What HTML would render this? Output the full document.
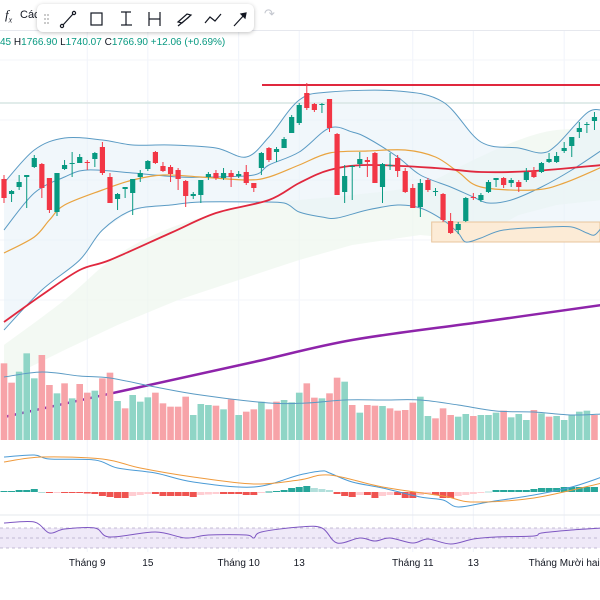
<!DOCTYPE html>
<html><head><meta charset="utf-8"><style>
body{margin:0;background:#fff;width:600px;height:600px;overflow:hidden;font-family:"Liberation Sans",sans-serif}
svg{position:absolute;left:0;top:0}
</style></head><body>
<svg id="c" width="600" height="600"></svg>
<script>
const NS="http://www.w3.org/2000/svg";
// ---- data (price units = arbitrary scale) ----
const opens=[421,406,413,423,433,436,422,388,431,436,437,438,441,453,423,401,411,407,423,431,448,434,433,430,419,404,405,423,427,422,427,424,428,417,432,452,448,452,467,477,507,496,495,501,466,408,433,436,440,447,413,434,442,429,412,393,420,408,406,379,370,379,403,400,408,420,422,417,418,420,429,428,438,438,449,454,468,475,479];
const highs=[425,410,425,425,445,437,422,427,440,448,446,440,448,458,427,407,413,421,430,440,449,438,435,432,420,408,420,428,430,432,430,429,435,417,448,453,453,463,485,497,517,497,497,501,467,435,435,448,443,448,437,447,445,432,416,421,422,412,407,387,378,403,407,407,420,422,423,422,420,432,433,438,447,448,458,463,478,478,488];
const lows=[397,398,410,392,432,402,387,384,430,423,437,430,433,425,397,390,402,385,418,429,436,428,418,410,393,401,397,420,420,420,413,422,415,408,425,438,438,452,467,475,490,488,487,468,405,397,400,432,423,417,397,430,423,407,392,383,408,404,378,366,366,378,400,398,407,413,412,413,408,418,422,427,437,437,447,443,462,467,470];
const closes=[402,409,418,425,442,412,390,427,435,437,443,437,447,427,397,406,413,421,427,439,437,429,426,421,404,406,420,426,422,427,423,426,417,412,447,440,451,461,483,495,492,490,496,472,405,424,434,441,438,417,436,435,429,408,392,417,410,409,380,367,376,402,402,405,418,422,415,420,413,428,423,437,441,444,452,463,472,476,483];
const volumes=[230,172,205,260,185,255,165,140,170,125,168,142,148,185,202,117,95,135,115,128,142,110,100,100,130,75,108,105,103,92,122,75,85,92,115,92,115,120,113,142,170,127,125,140,187,175,105,82,105,103,102,95,88,90,112,130,72,65,95,75,70,78,72,75,75,82,88,68,78,60,90,80,70,72,60,75,85,88,75];
const volUp=[0,0,1,1,1,0,0,1,0,1,0,0,1,0,0,1,0,1,1,1,0,0,0,0,0,1,1,1,0,1,0,1,0,0,1,0,0,1,1,1,0,0,1,0,0,1,0,1,0,0,1,0,0,0,0,1,1,0,0,0,1,1,0,1,1,1,0,1,1,1,0,1,0,1,1,1,1,1,0];
const volMAIdx=[0,5,10,14,20,26,35,40,45,50,55,60,65,70,75,79];
const volMA=[189,204,192,186,159,135,111,111,120,120,120,105,87,84,75,78];
const bbUpIdx=[0,4,8,13,17,22,28,32,35,39,43,52,58,63,68,71,73,77,79];
const bbUp=[417,450,462,460,455,455,452,443,463,500,508,509,498,458,452,447,455,487,490];
const bbMidIdx=[0,4,8,11,17,23,27,33,35,39,43,46,48,52,55,59,62,64,67,71,75,79];
const bbMid=[370,407,423,430,427,423,423,425,435,448,472,468,462,443,425,413,403,397,400,413,430,450];
const bbLowIdx=[0,5,10,13,17,22,26,33,37,39,42,44,48,52,55,58,60,61,63,66,72,75,77,78,79];
const bbLow=[270,310,340,370,390,395,398,398,397,388,383,382,390,395,392,380,367,358,362,370,373,373,367,365,373];
const ma20Idx=[0,4,6,8,13,17,21,26,32,35,39,43,48,53,57,60,63,70,74,79];
const ma20=[347,363,380,395,410,420,425,423,420,423,435,447,449,450,443,428,413,410,417,433];
const ma50Idx=[0,5,10,14,22,28,35,39,43,48,57,63,70,79];
const ma50=[278,305,330,340,367,387,400,417,430,435,432,428,429,435];
const ma200Idx=[0,18,33,46,63,79];
const ma200=[183,213,238,260,278,295];
const cloudIdx=[0,8,15,23,33,39,46,55,62,68,73,79];
const cloudTop=[255,300,345,375,395,400,405,415,440,460,470,470];
const cloudBot=[220,250,275,300,325,340,355,365,360,385,395,400];
const resistance=515, lastPrice=497;
const zoneTop=378, zoneBot=358, zoneStart=56.5;
const macdIdx=[0,4,6,12,15,20,25,33,39,42,43,46,50,55,58,60,64,70,75,79];
const macd=[35,37,33,32,24,19,10,5,17,21,19,10,4,-5,-8,-15,-10,-3,5,15];
const sigIdx=[0,5,13,18,25,33,39,43,50,58,62,70,79];
const signal=[30,35,33,24,15,8,12,17,5,-4,-10,-6,9];
const hist=[1,1,2,2,3,0,-1,-0.5,-0.5,-0.5,-1,-1.5,-2,-4,-5,-6,-6,-4,-3,-2,-2,-4,-4,-4,-4,-5,-3,-2.5,-2,-2,-2,-2,-3,-3,-0.5,0.5,1,2,4,5,6,4,3,2,-2,-4,-5,-3,-3,-6,-4,-3,-3,-6,-6,-3,-2,-3,-6,-6,-4,-3,-2,-1,0.5,2,2,2,2,2,3,4,4,4,5,5,5,5,5];
const rsiIdx=[0,4,6,8,12,14,20,24,27,32,33,34,39,42,44,47,49,51,54,56,59,62,65,70,71,75,79];
const rsi=[80,82,60,68,70,52,62,50,56,56,50,62,72,70,40,50,44,50,40,48,38,48,52,54,60,66,70];
const xLabels=["Tháng 9","15","Tháng 10","13","Tháng 11","13","Tháng Mười hai"];
const xLabelIdx=[11,19,31,39,54,62,74];
// ---- axes ----
const xAt=i=>4+7.57*i;
const yP=v=>600-v;
const yV=v=>440-v/3;
const yM=v=>492-v;
const yR=v=>528+(70-v)/2;
const svg=document.getElementById('c');
function el(t,a,p){const e=document.createElementNS(NS,t);for(const k in a)e.setAttribute(k,a[k]);(p||svg).appendChild(e);return e;}
function pts(idx,vals,yf){return idx.map((i,k)=>[xAt(i),yf(vals[k])]);}
function smooth(P){let d='M'+P[0][0]+','+P[0][1];for(let i=0;i<P.length-1;i++){const p0=P[i-1]||P[i],p1=P[i],p2=P[i+1],p3=P[i+2]||p2;const c1=[p1[0]+(p2[0]-p0[0])/6,p1[1]+(p2[1]-p0[1])/6],c2=[p2[0]-(p3[0]-p1[0])/6,p2[1]-(p3[1]-p1[1])/6];d+=`C${c1[0]},${c1[1]} ${c2[0]},${c2[1]} ${p2[0]},${p2[1]}`;}return d;}
function line(idx,vals,yf,color,w,name){const p=el('path',{d:smooth(pts(idx,vals,yf)),fill:'none',stroke:color,'stroke-width':w});

return p;}
// grid
xLabelIdx.forEach(i=>{el('line',{x1:xAt(i),x2:xAt(i),y1:30,y2:552,stroke:'#f0f3fa'});});
[60,120,180,240,300].forEach(y=>el('line',{x1:0,x2:600,y1:y,y2:y,stroke:'#f3f5fa'}));
// cloud
{const top=pts(cloudIdx,cloudTop,yP),bot=pts(cloudIdx,cloudBot,yP).reverse();
const p=el('path',{d:smooth(top)+' L'+bot.map(q=>q.join(',')).join(' L')+'Z',fill:'#eef6ee',opacity:0.7});

}
// bb fill
{const up=smooth(pts(bbUpIdx,bbUp,yP));const lo=pts(bbLowIdx,bbLow,yP).reverse();
const p=el('path',{d:up+' L'+lo.map(q=>q.join(',')).join(' L')+'Z',fill:'#e8f2f9',opacity:0.6});

}
// zone
{const r=el('rect',{x:xAt(zoneStart),y:yP(zoneTop),width:600-xAt(zoneStart),height:zoneTop-zoneBot,fill:'#fcebd6',stroke:'#e8c49c','stroke-width':1});

}
// price line
{const l=el('line',{x1:0,x2:600,y1:yP(lastPrice),y2:yP(lastPrice),stroke:'#d7e6e4','stroke-width':1.5});

}
line(bbUpIdx,bbUp,yP,'#5b9bc4',1,'bollinger-upper');
line(bbLowIdx,bbLow,yP,'#5b9bc4',1,'bollinger-lower');
line(bbMidIdx,bbMid,yP,'#5b9bc4',1,'bollinger-basis');
line(ma20Idx,ma20,yP,'#e9a440',1.2,'ma-orange');
line(ma50Idx,ma50,yP,'#e0283e',1.8,'ma-red');
line(ma200Idx,ma200,yP,'#8e24aa',2.5,'ma-purple');
{const l=el('line',{x1:262,x2:600,y1:yP(resistance),y2:yP(resistance),stroke:'#e0283e','stroke-width':2});

}
// candles
opens.forEach((o,i)=>{const c=closes[i],up=c>=o,col=up?'#089981':'#f23645',x=xAt(i);
const g=el('g',{});


el('line',{x1:x,x2:x,y1:yP(highs[i]),y2:yP(lows[i]),stroke:col,'stroke-width':1},g);
el('rect',{x:x-2.6,y:yP(Math.max(o,c)),width:5.2,height:Math.max(1,Math.abs(o-c)),fill:col},g);});
// volume
volumes.forEach((v,i)=>{const r=el('rect',{x:xAt(i)-3.3,y:yV(v),width:6.6,height:v/3,fill:volUp[i]?'#8fd5c6':'#f7a3a8'});

});
line(volMAIdx,volMA,yV,'#5b9bc4',1,'volume-ma');
// macd
hist.forEach((h,i)=>{const prev=i?hist[i-1]:0,grow=Math.abs(h)>=Math.abs(prev);
const col=h>=0?(grow?'#26a69a':'#b2dfdb'):(grow?'#ef5350':'#ffcdd2');
const r=el('rect',{x:xAt(i)-3.5,y:h>=0?yM(h):yM(0),width:7,height:Math.max(1,Math.abs(h)),fill:col});

});
line(macdIdx,macd,yM,'#4b9bd6',1,'macd-line');
line(sigIdx,signal,yM,'#ef9a3c',1,'signal-line');
// rsi
el('line',{x1:0,x2:600,y1:515,y2:515,stroke:'#e6e8ee'});
{const r=el('rect',{x:0,y:yR(70),width:600,height:yR(30)-yR(70),fill:'#efe9f8'});

}
[70,50,30].forEach(v=>el('line',{x1:0,x2:600,y1:yR(v),y2:yR(v),stroke:'#b4a9c9','stroke-dasharray':'3,3','stroke-width':0.8}));
line(rsiIdx,rsi,yR,'#7e57c2',1,'rsi-line');
// x labels
xLabels.forEach((t,k)=>{const tx=el('text',{x:xAt(xLabelIdx[k]),y:566,'text-anchor':'middle','font-size':10,fill:'#131722','font-family':'Liberation Sans, sans-serif'});tx.textContent=t;

});
</script>
<div style="position:absolute;left:0;top:0;width:600px;height:30px;border-bottom:1px solid #e6e8ee;background:#fff">
<span style="position:absolute;left:5px;top:7px;font-size:13px;font-family:'Liberation Serif',serif;font-style:italic;color:#131722">f<sub style="font-size:8px">x</sub></span>
<span style="position:absolute;left:20px;top:9px;font-size:11px;color:#131722">Các</span>
<div style="position:absolute;left:37px;top:4px;width:217px;height:28px;background:#fff;border-radius:6px;box-shadow:0 1px 4px rgba(0,0,0,.25)">
<svg width="217" height="28" style="position:absolute;left:0;top:0" stroke="#131722" fill="none" stroke-width="1.2">
<g fill="#bbb" stroke="none"><circle cx="8" cy="11" r="1"/><circle cx="11" cy="11" r="1"/><circle cx="8" cy="15" r="1"/><circle cx="11" cy="15" r="1"/><circle cx="8" cy="19" r="1"/><circle cx="11" cy="19" r="1"/></g>
<g><line x1="26" y1="21" x2="36" y2="10"/><circle cx="25" cy="22" r="1.6" fill="#fff"/><circle cx="37" cy="9" r="1.6" fill="#fff"/></g>
<g><rect x="54" y="9" width="11" height="12"/></g>
<g><line x1="84" y1="8" x2="94" y2="8"/><line x1="89" y1="8" x2="89" y2="21"/><line x1="84" y1="21" x2="95" y2="21"/></g>
<g><line x1="112" y1="8" x2="112" y2="22"/><line x1="112" y1="15" x2="123" y2="15"/><line x1="123" y1="8" x2="123" y2="22"/></g>
<g><path d="M141 18 L150 10 L154 11 L145 19Z M141 22 L152 13"/></g>
<g><path d="M168 19 L173 13 L178 17 L184 10"/></g>
<g><line x1="197" y1="22" x2="208" y2="10"/><path d="M204 10 L209 9 L208 14Z" fill="#131722"/></g>
</svg></div>
<span style="position:absolute;left:264px;top:6px;font-size:13px;color:#c4c7cf">↷</span>
</div>
<div style="position:absolute;left:0;top:37px;font-size:10px;color:#089981;white-space:nowrap">45 <span style="color:#131722">H</span>1766.90 <span style="color:#131722">L</span>1740.07 <span style="color:#131722">C</span>1766.90 +12.06 (+0.69%)</div>
</body></html>
